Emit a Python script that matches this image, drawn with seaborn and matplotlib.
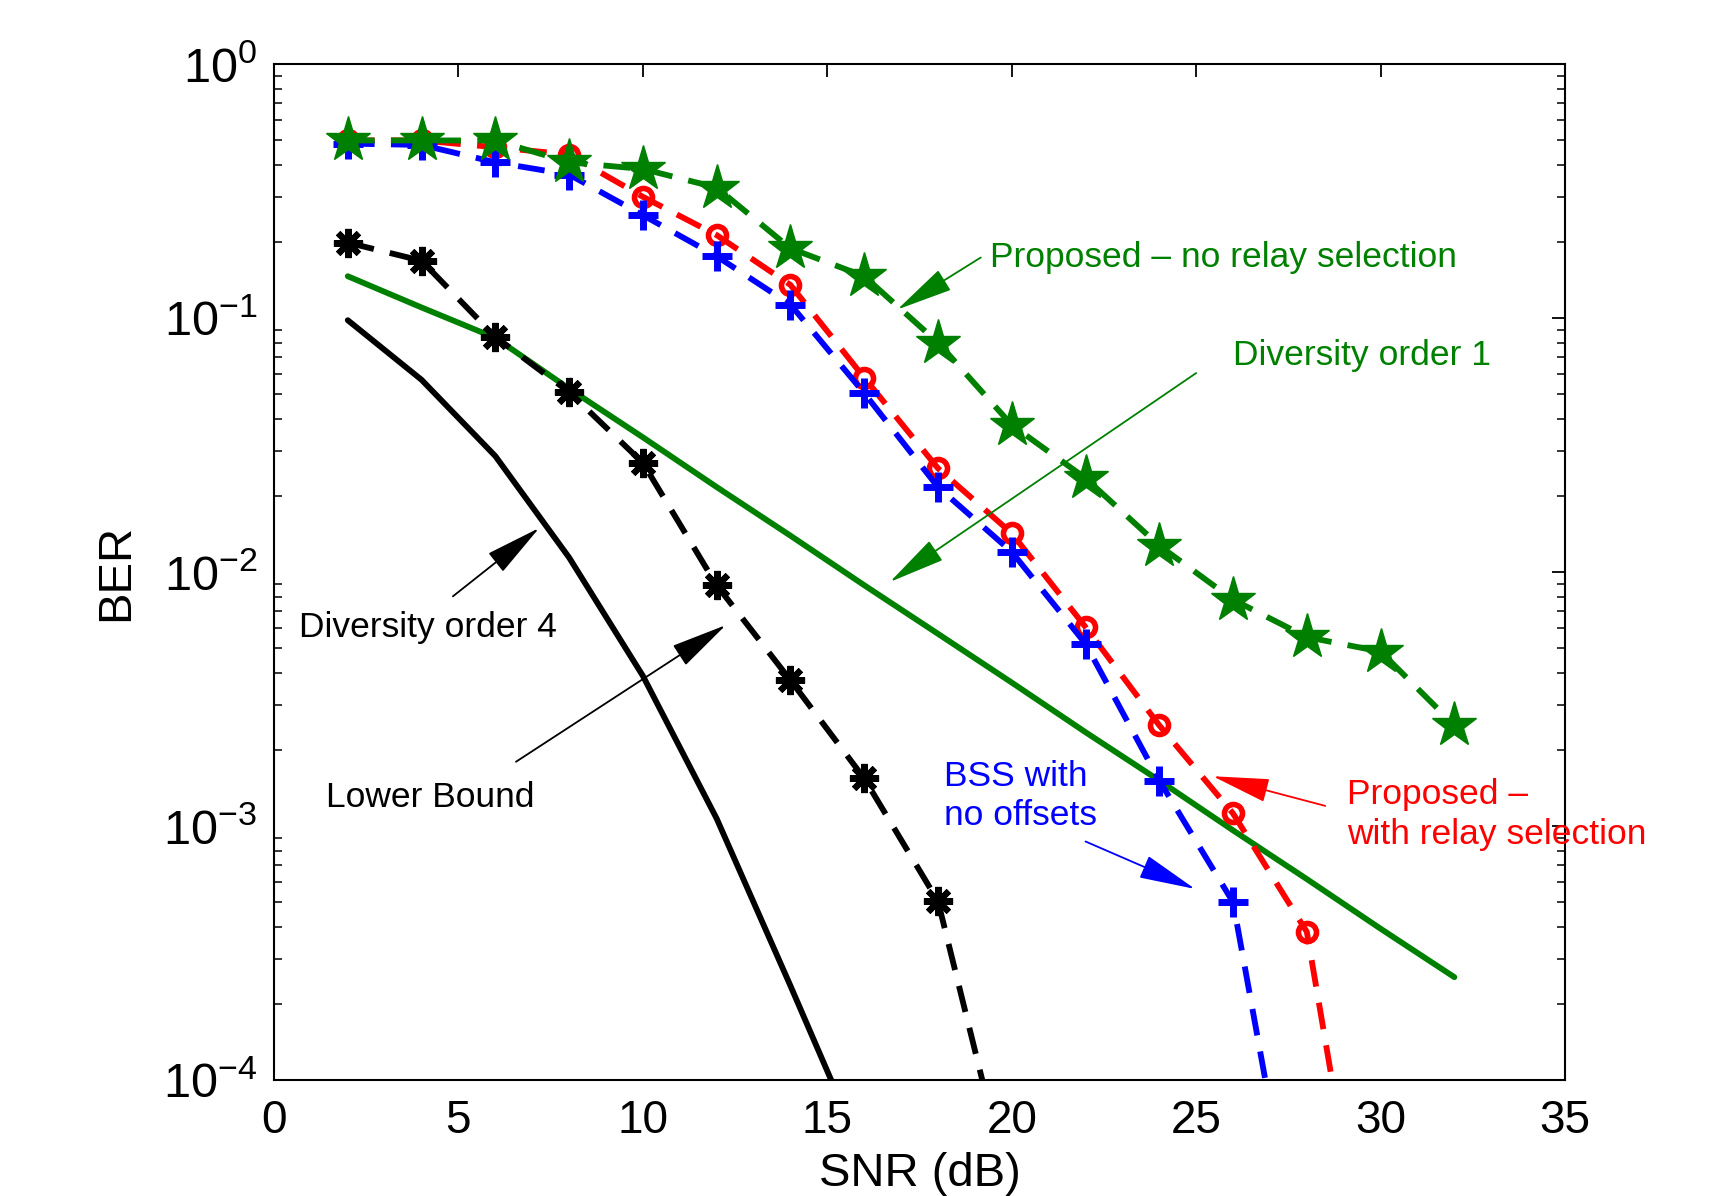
import numpy as np
import pandas as pd
import matplotlib
matplotlib.use("Agg")
import matplotlib.pyplot as plt
import seaborn as sns

# ---------------- data ----------------
snr_sel = [2, 4, 6, 8, 10, 12, 14, 16, 18, 20, 22, 24, 26, 28, 30]
ber_relay_sel = [0.50, 0.50, 0.47, 0.44, 0.30, 0.212, 0.135, 0.0582, 0.0256,
                 0.0142, 0.00607, 0.00249, 0.00112, 0.000383, 0.0000075]

snr_bss = [2, 4, 6, 8, 10, 12, 14, 16, 18, 20, 22, 24, 26, 28]
ber_bss = [0.486, 0.48, 0.41, 0.367, 0.254, 0.175, 0.113, 0.0506, 0.0216,
           0.0120, 0.00522, 0.00151, 0.000501, 0.0000126]

snr_norel = [2, 4, 6, 8, 10, 12, 14, 16, 18, 20, 22, 24, 26, 28, 30, 32]
ber_norel = [0.50, 0.50, 0.50, 0.41, 0.386, 0.326, 0.188, 0.146, 0.080,
             0.0379, 0.0234, 0.0127, 0.00778, 0.00554, 0.00486, 0.00249]

snr_div4 = [2, 4, 6, 8, 10, 12, 14, 16, 18, 20]
ber_div4 = [0.198, 0.168, 0.0843, 0.0511, 0.0269, 0.00887, 0.00375,
            0.00154, 0.000506, 0.000034]

snr_div1 = [2, 4, 6, 8, 10, 12, 14, 16, 18, 20, 22, 24, 26, 28, 30, 32]
ber_div1 = [0.146, 0.110, 0.0835, 0.0527, 0.0339, 0.0216, 0.0139, 0.00887,
            0.00571, 0.00367, 0.00234, 0.00151, 0.000961, 0.000618,
            0.000394, 0.000254]

snr_lb = [2, 4, 6, 8, 10, 12, 14, 16]
ber_lb = [0.098, 0.0571, 0.0286, 0.0114, 0.0039, 0.00107, 0.000235, 0.00005]

x_ticks = [0, 5, 10, 15, 20, 25, 30, 35]

# ---------------- style ----------------
sns.set_style("white")
plt.rcParams["font.family"] = ["Liberation Sans", "DejaVu Sans"]
plt.rcParams["mathtext.fontset"] = "custom"
plt.rcParams["mathtext.rm"] = "Liberation Sans"
plt.rcParams["mathtext.it"] = "Liberation Sans:italic"
plt.rcParams["mathtext.bf"] = "Liberation Sans:bold"
plt.rcParams["text.color"] = "black"
plt.rcParams["axes.labelcolor"] = "black"

GREEN = "#008000"
RED = "#ff0000"
BLUE = "#0000ff"
BLACK = "#000000"

fig = plt.figure(figsize=(17.32, 11.96), dpi=100)
ax = fig.add_axes([0.1582, 0.097, 0.7454, 0.8495])

LW = 4.2
DASH = (4.6, 2.8)

def draw(x, y, color, ls, marker=None, ms=0, mew=0, mfc=None, zorder=3):
    df = pd.DataFrame({"x": x, "y": y})
    sns.lineplot(data=df, x="x", y="y", ax=ax, estimator=None, sort=False,
                 marker=marker, markersize=ms, markeredgewidth=mew,
                 markerfacecolor=mfc if mfc is not None else color,
                 markeredgecolor=color, color=color, linewidth=LW, zorder=zorder)
    l = ax.lines[-1]
    if ls == "--":
        l.set_dashes(DASH)
    elif ls == "none":
        l.set_linestyle("none")
    return l

draw(snr_lb, ber_lb, BLACK, "-")
draw(snr_div1, ber_div1, GREEN, "-")
draw(snr_div4, ber_div4, BLACK, "--", marker=(8, 2, 0), ms=21, mew=4.5)
draw(snr_sel, ber_relay_sel, RED, "--", marker="o", ms=13, mew=4, mfc="none")
draw(snr_bss, ber_bss, BLUE, "--")
draw(snr_bss, ber_bss, BLUE, "none", marker="+", ms=21, mew=5)
draw(snr_norel, ber_norel, GREEN, "--", marker="*", ms=34, mew=1)

ax.set_yscale("log")
ax.set_xlim(0, 35)
ax.set_ylim(1e-4, 1)
ax.set_xticks(x_ticks)
ax.set_xticklabels([str(t) for t in x_ticks])
ax.set_yticks([1e-4, 1e-3, 1e-2, 1e-1, 1])
ax.set_yticklabels([r"$10^{-4}$", r"$10^{-3}$", r"$10^{-2}$", r"$10^{-1}$", r"$10^{0}$"])
ax.yaxis.set_minor_locator(matplotlib.ticker.LogLocator(base=10, subs=np.arange(2, 10), numticks=20))
ax.yaxis.set_minor_formatter(matplotlib.ticker.NullFormatter())

ax.tick_params(axis="both", which="major", direction="in", length=9.5, width=1.3,
               top=True, right=True, labelsize=33, pad=12, colors=BLACK)
ax.tick_params(axis="y", which="major", labelsize=35, pad=12)
ax.tick_params(axis="y", which="minor", direction="in", length=5.5, width=1.3,
               left=True, right=True)
ax.tick_params(axis="x", which="major", pad=14)
for s in ax.spines.values():
    s.set_linewidth(1.5)
    s.set_color(BLACK)
    s.set_visible(True)

ax.set_xlabel("SNR (dB)", fontsize=34, labelpad=6, color=BLACK)
ax.set_ylabel("BER", fontsize=34, labelpad=18, color=BLACK)

# ---------------- annotations ----------------
TS = 25.5

def arrow(tail, head, color, lw=1.3):
    ax.annotate("", xy=head, xytext=tail,
                arrowprops=dict(arrowstyle="-|>,head_length=1.2,head_width=0.25",
                                color=color, lw=lw, mutation_scale=30,
                                shrinkA=0, shrinkB=0), zorder=5)

ax.text(19.4, 0.173, "Proposed \u2013 no relay selection", color=GREEN, fontsize=TS,
        ha="left", va="center")
arrow((19.16, 0.173), (16.9, 0.108), GREEN)

ax.text(26.0, 0.0711, "Diversity order 1", color=GREEN, fontsize=TS, ha="left", va="center")
arrow((25.0, 0.0607), (16.7, 0.00914), GREEN)

ax.text(0.69, 0.00607, "Diversity order 4", color=BLACK, fontsize=TS, ha="left", va="center")
arrow((4.85, 0.00802), (7.19, 0.0149), BLACK)

ax.text(1.41, 0.0013, "Lower Bound", color=BLACK, fontsize=TS, ha="left", va="center")
arrow((6.56, 0.00179), (12.25, 0.00618), BLACK)

ax.text(18.17, 0.00131, "BSS with\nno offsets", color=BLUE, fontsize=TS, ha="left",
        va="center", linespacing=1.25)
arrow((22.0, 0.000869), (24.97, 0.000565), BLUE)

ax.text(29.1, 0.00111, "Proposed \u2013\nwith relay selection", color=RED, fontsize=TS,
        ha="left", va="center", linespacing=1.25, clip_on=False, zorder=6)
arrow((28.5, 0.0012), (25.45, 0.00157), RED)

fig.savefig("out.png", dpi=100, facecolor="white")
